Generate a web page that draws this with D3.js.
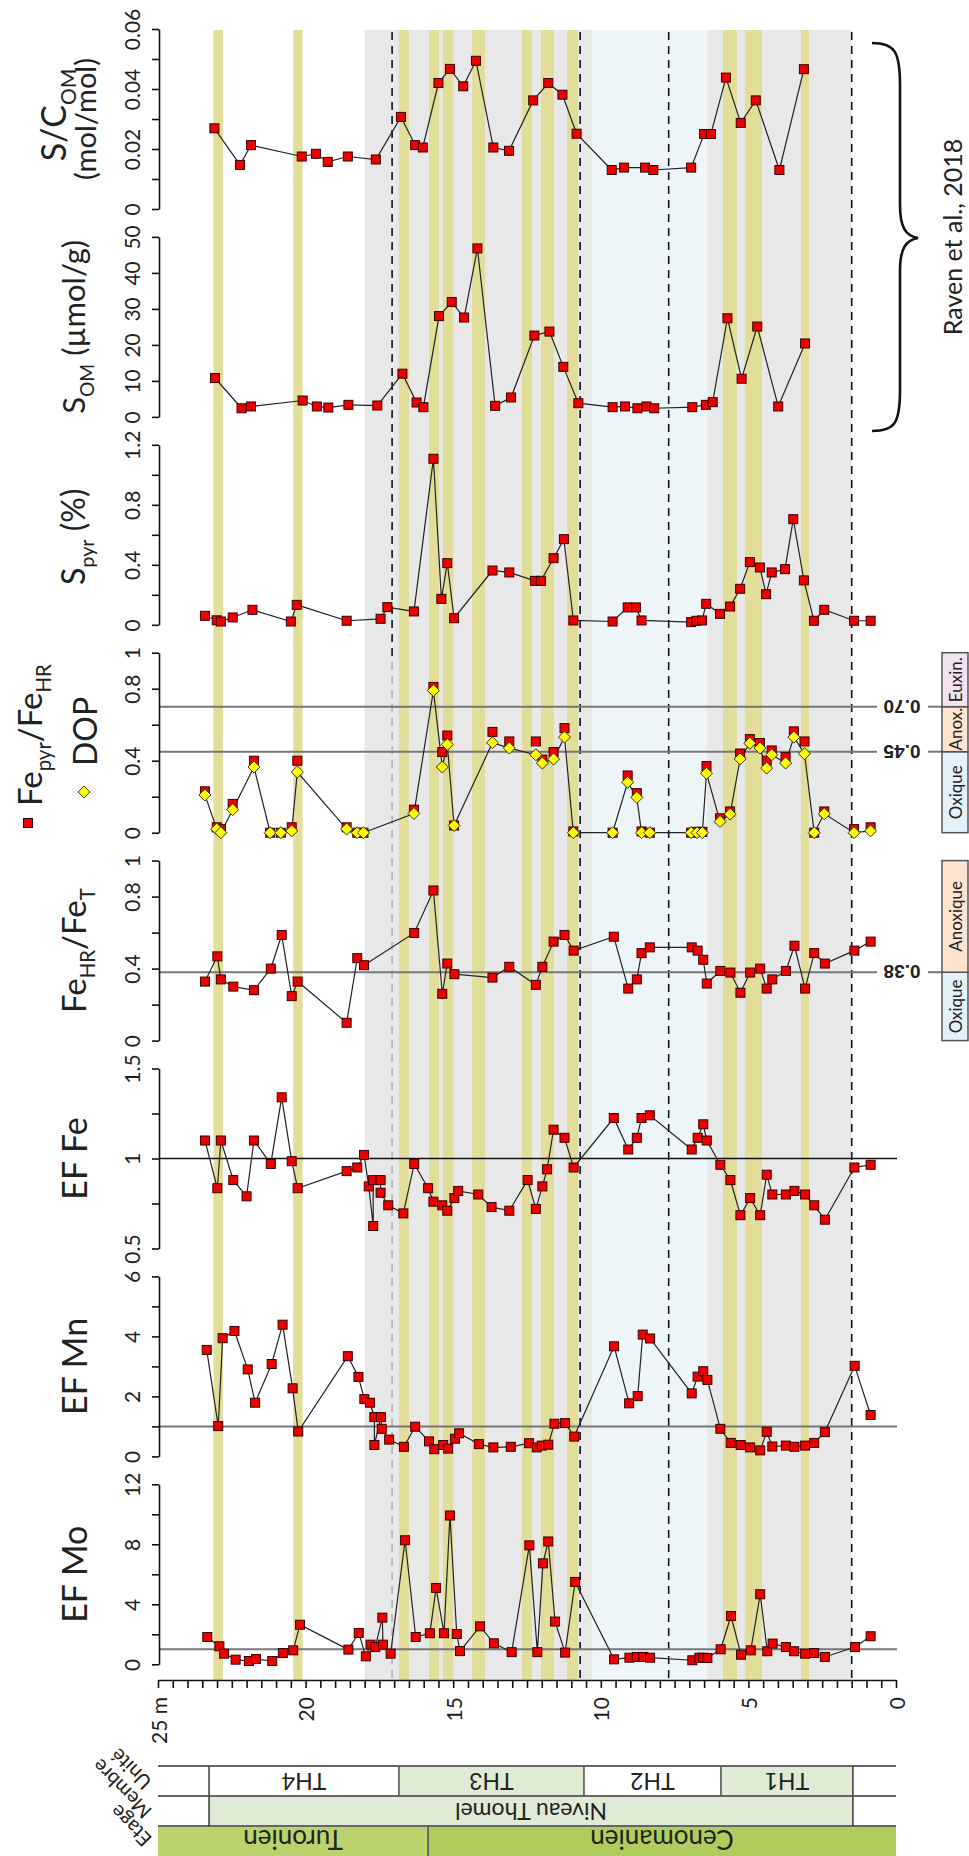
<!DOCTYPE html>
<html><head><meta charset="utf-8">
<script src="https://cdn.jsdelivr.net/npm/d3@7"></script>
<style>
body{margin:0;background:#fff}
svg{display:block}
text{font-family:Lato,'Open Sans',sans-serif;fill:#222}
</style>
</head><body>
<svg id="c" width="969" height="1856"></svg>
<script>
// ---------------- DATA ----------------
// S/C_OM (mol/mol)
const scDepth = [23.09,22.22,21.85,20.13,19.65,19.25,18.57,17.62,16.77,16.29,16.03,15.5,15.11,14.66,14.23,13.64,13.11,12.29,11.78,11.3,10.82,9.63,9.21,8.5,8.22,6.94,6.5,6.27,5.76,5.26,4.75,3.95,3.12];
const scValues = [0.0269,0.0147,0.0213,0.0175,0.0184,0.0157,0.0175,0.0165,0.0307,0.0213,0.0205,0.042,0.0467,0.0409,0.0494,0.0205,0.0194,0.0362,0.042,0.0381,0.0251,0.013,0.0138,0.0138,0.013,0.0138,0.025,0.025,0.0438,0.0287,0.0362,0.013,0.0466];
// S_OM (umol/g)
const somDepth = [23.07,22.17,21.85,20.1,19.62,19.23,18.55,17.57,16.72,16.24,16.01,15.48,15.05,14.63,14.18,13.58,13.04,12.25,11.74,11.27,10.76,9.6,9.18,8.76,8.45,8.19,6.9,6.44,6.21,5.71,5.23,4.7,3.99,3.08];
const somValues = [10.8,2.4,2.9,4.55,2.9,2.6,3.35,3.16,12.0,4.0,2.7,28.0,31.9,27.6,46.8,3.07,5.4,22.6,23.7,13.9,3.8,2.7,2.9,2.4,2.9,2.4,2.7,3.35,4.1,27.4,10.6,25.1,2.9,20.4];
// S_pyr (%)
const spyrDepth = [23.41,23.01,22.87,22.47,21.8,20.5,20.3,18.61,17.46,17.23,16.33,15.67,15.4,15.2,14.97,13.67,13.1,12.23,12.03,11.6,11.25,10.93,9.6,9.09,8.81,8.62,6.94,6.76,6.57,6.43,5.96,5.62,5.28,4.95,4.61,4.4,4.21,3.76,3.48,3.12,2.78,2.43,1.42,0.86];
const spyrValues = [0.06,0.03,0.022,0.049,0.10,0.022,0.133,0.027,0.04,0.118,0.089,1.107,0.173,0.411,0.044,0.362,0.349,0.293,0.293,0.444,0.571,0.029,0.022,0.116,0.116,0.029,0.018,0.027,0.029,0.14,0.073,0.122,0.24,0.418,0.382,0.204,0.349,0.371,0.704,0.296,0.027,0.1,0.027,0.027];
// Fe_pyr/Fe_HR and DOP (same samples)
const fepyrDepth = [23.41,23.01,22.87,22.47,21.75,21.2,20.84,20.47,20.28,18.61,18.25,18.04,16.33,15.67,15.37,15.2,14.97,13.67,13.1,12.2,11.98,11.6,11.23,10.93,9.6,9.09,8.78,8.62,8.34,6.94,6.74,6.56,6.42,5.96,5.62,5.28,4.95,4.61,4.38,4.21,3.74,3.46,3.1,2.77,2.43,1.42,0.86];
const fepyrValues = [0.23,0.03,0.02,0.16,0.40,0.0,0.0,0.03,0.40,0.03,0.0,0.0,0.128,0.81,0.448,0.54,0.04,0.56,0.507,0.507,0.406,0.448,0.581,0.007,0.0,0.318,0.22,0.007,0.0,0.0,0.005,0.005,0.37,0.08,0.118,0.44,0.52,0.498,0.40,0.457,0.42,0.563,0.507,0.0,0.118,0.02,0.03];
const dopValues = [0.21,0.02,0.0,0.128,0.365,0.0,0.0,0.01,0.337,0.02,0.0,0.0,0.107,0.79,0.365,0.49,0.04,0.50,0.47,0.433,0.387,0.409,0.531,0.0,0.0,0.28,0.196,0.0,0.0,0.0,0.0,0.0,0.33,0.062,0.103,0.41,0.497,0.47,0.359,0.433,0.387,0.531,0.439,0.0,0.105,0.0,0.01];
// Fe_HR/Fe_T
const fehrDepth = [23.41,22.99,22.87,22.45,21.75,21.18,20.81,20.47,20.27,18.61,18.25,18.02,16.32,15.67,15.37,15.2,14.96,13.67,13.1,12.2,11.98,11.6,11.23,10.92,9.56,9.07,8.78,8.62,8.34,6.92,6.72,6.53,6.41,5.95,5.61,5.27,4.94,4.6,4.38,4.19,3.73,3.44,3.08,2.77,2.41,1.41,0.86];
const fehrValues = [0.328,0.468,0.34,0.30,0.28,0.40,0.587,0.247,0.328,0.099,0.458,0.419,0.598,0.834,0.26,0.428,0.369,0.35,0.41,0.31,0.41,0.55,0.587,0.5,0.577,0.289,0.34,0.486,0.518,0.518,0.5,0.449,0.317,0.387,0.378,0.266,0.378,0.40,0.289,0.34,0.387,0.527,0.289,0.486,0.428,0.5,0.55];
// EF Fe
const effeDepth = [23.41,22.99,22.87,22.45,22.0,21.75,21.18,20.81,20.47,20.27,18.61,18.25,18.02,17.86,17.71,17.71,17.46,17.46,17.2,16.69,16.32,15.85,15.67,15.37,15.2,14.96,14.83,14.15,13.7,13.1,12.48,12.2,11.98,11.82,11.6,11.23,10.92,9.56,9.07,8.78,8.62,8.34,6.92,6.72,6.53,6.41,5.95,5.61,5.27,4.94,4.6,4.38,4.19,3.73,3.44,3.08,2.77,2.41,1.41,0.86];
const effeValues = [1.10,0.835,1.10,0.88,0.79,1.10,0.97,1.34,0.985,0.835,0.93,0.95,1.02,0.845,0.625,0.88,0.88,0.81,0.74,0.695,0.97,0.835,0.76,0.74,0.71,0.78,0.82,0.80,0.73,0.71,0.88,0.72,0.845,0.94,1.16,1.115,0.95,1.225,1.05,1.115,1.225,1.24,1.05,1.115,1.19,1.10,0.965,0.88,0.685,0.78,0.685,0.91,0.80,0.80,0.82,0.80,0.74,0.66,0.95,0.965];
// EF Mn
const efmnDepth = [23.35,22.96,22.81,22.41,21.96,21.71,21.15,20.78,20.44,20.25,18.57,18.21,18.01,17.82,17.67,17.67,17.45,17.42,17.17,16.67,16.29,15.82,15.64,15.34,15.17,14.94,14.8,14.13,13.64,13.05,12.43,12.17,12.0,11.78,11.57,11.21,10.9,9.55,9.04,8.75,8.58,8.33,6.92,6.72,6.53,6.39,5.95,5.6,5.26,4.94,4.6,4.38,4.19,3.73,3.44,3.08,2.77,2.41,1.4,0.86];
const efmnValues = [3.55,1.01,3.94,4.18,2.9,1.79,3.08,4.39,2.27,0.83,3.34,2.65,1.91,1.79,1.31,0.38,1.31,0.92,0.56,0.32,0.99,0.5,0.24,0.38,0.26,0.59,0.77,0.41,0.3,0.32,0.44,0.3,0.36,0.39,1.09,1.11,0.66,3.67,1.77,2.01,4.06,3.93,2.1,2.66,2.84,2.55,0.92,0.45,0.38,0.3,0.2,0.82,0.33,0.36,0.32,0.36,0.45,0.81,3.02,1.38];
// EF Mo
const efmoDepth = [23.33,22.92,22.76,22.37,21.92,21.68,21.13,20.77,20.42,20.19,18.55,18.2,17.96,17.8,17.64,17.4,17.38,17.12,16.63,16.27,15.79,15.58,15.31,15.11,14.88,14.77,14.09,13.62,13.02,12.42,12.15,11.96,11.78,11.55,11.21,10.87,9.55,9.03,8.78,8.56,8.33,6.9,6.66,6.53,6.39,5.94,5.59,5.25,4.92,4.6,4.36,4.18,3.73,3.45,3.08,2.77,2.41,1.39,0.86];
const efmoValues = [1.82,1.2,0.71,0.31,0.22,0.35,0.22,0.75,0.93,2.64,0.98,2.09,0.53,1.31,1.15,3.11,1.31,0.71,8.27,1.82,2.07,5.09,2.07,9.92,2.02,0.88,2.53,1.40,0.81,7.93,0.81,6.73,8.19,2.85,0.78,5.49,0.33,0.44,0.49,0.49,0.44,0.27,0.44,0.44,0.42,1.0,3.22,0.64,0.93,4.67,0.87,1.38,1.15,0.87,0.71,0.75,0.49,1.15,1.87];

// Tick values / labels
const scTicks = [0,0.01,0.02,0.03,0.04,0.05,0.06];   const scTickLabels = ['0','','0.02','','0.04','','0.06'];
const somTicks = [0,10,20,30,40,50];                  const somTickLabels = ['0','10','20','30','40','50'];
const spyrTicks = [0,0.2,0.4,0.6,0.8,1.0,1.2];        const spyrTickLabels = ['0','','0.4','','0.8','','1.2'];
const ratioTicks = [0,0.2,0.4,0.6,0.8,1.0];           const ratioTickLabels = ['0','','0.4','','0.8','1'];
const effeTicks = [0.5,0.75,1,1.25,1.5];              const effeTickLabels = ['0.5','','1','','1.5'];
const efmnTicks = [0,1,2,3,4,5,6];                    const efmnTickLabels = ['0','','2','','4','','6'];
const efmoTicks = [0,2,4,6,8,10,12];                  const efmoTickLabels = ['0','','4','','8','','12'];
const depthTicks = d3.range(0, 25.01, 0.5);
const depthLabelValues = [0,5,10,15,20,25];
const depthLabels = ['0','5','10','15','20','25 m'];

// Background zones (depth, m)
const grayZone = [18.0, 1.5];
const blueZone = [10.3, 6.4];
const yellowBands = [[23.12,22.8],[20.42,20.1],[16.84,16.5],[15.82,15.48],[15.35,15.0],[14.36,13.92],[12.67,12.33],[12.03,11.59],[11.14,10.77],[5.86,5.39],[5.12,4.54],[3.22,2.95]];
const dashedDepths = [10.7, 7.7, 1.5];
const mixedDashDepth = 17.07;

// Stratigraphy
const unitNames = ['TH4','TH3','TH2','TH1'];
const unitTop = [23.27,16.84,10.57,5.93];
const unitBase = [16.84,10.57,5.93,1.46];
const memberNames = ['Niveau Thomel'];
const memberTop = [23.27]; const memberBase = [1.46];
const stageNames = ['Turonien','Cenomanien'];
const stageTop = [25,15.85]; const stageBase = [15.85,0];
const rowLabels = ['Unit\u00e9','Membre','Etage'];

// ---------------- LAYOUT ----------------
const svg = d3.select('#c');
const X0 = 158, X1 = 896;
const x = d3.scaleLinear().domain([25,0]).range([X0,X1]);
const plotTop = 30, axisY = 1680;
const pTop = i => 29 + i*207.9;
const pH = 180;

const gBg = svg.append('g');
gBg.append('rect').attr('x',x(grayZone[0])).attr('width',x(grayZone[1])-x(grayZone[0]))
  .attr('y',plotTop).attr('height',axisY-plotTop).attr('fill','#e8e8e8');
gBg.append('rect').attr('x',x(blueZone[0])).attr('width',x(blueZone[1])-x(blueZone[0]))
  .attr('y',plotTop).attr('height',axisY-plotTop).attr('fill','#edf5f8');
gBg.selectAll('rect.yb').data(yellowBands).join('rect').attr('class','yb')
  .attr('x',d=>x(d[0])).attr('width',d=>x(d[1])-x(d[0]))
  .attr('y',plotTop).attr('height',axisY-plotTop).attr('fill','#e2dd98');
gBg.selectAll('line.dl').data(dashedDepths).join('line').attr('class','dl')
  .attr('x1',d=>x(d)).attr('x2',d=>x(d)).attr('y1',plotTop+2).attr('y2',axisY)
  .attr('stroke','#111').attr('stroke-width',1.6).attr('stroke-dasharray','8,6');
gBg.append('line').attr('x1',x(mixedDashDepth)).attr('x2',x(mixedDashDepth)).attr('y1',plotTop+2).attr('y2',660)
  .attr('stroke','#111').attr('stroke-width',1.6).attr('stroke-dasharray','8,6');
gBg.append('line').attr('x1',x(mixedDashDepth)).attr('x2',x(mixedDashDepth)).attr('y1',662).attr('y2',axisY)
  .attr('stroke','#aaa').attr('stroke-width',1.4).attr('stroke-dasharray','8,6');

// panels
const panels = [
  {depth:scDepth, values:scValues, domain:[0,0.06], ticks:scTicks, labels:scTickLabels},
  {depth:somDepth, values:somValues, domain:[0,50], ticks:somTicks, labels:somTickLabels},
  {depth:spyrDepth, values:spyrValues, domain:[0,1.2], ticks:spyrTicks, labels:spyrTickLabels},
  {depth:fepyrDepth, values:fepyrValues, dop:dopValues, domain:[0,1], ticks:ratioTicks, labels:ratioTickLabels, hlines:[0.70,0.45], hlab:['0.70','0.45']},
  {depth:fehrDepth, values:fehrValues, domain:[0,1], ticks:ratioTicks, labels:ratioTickLabels, hlines:[0.38], hlab:['0.38']},
  {depth:effeDepth, values:effeValues, domain:[0.5,1.5], ticks:effeTicks, labels:effeTickLabels, ref:1, refColor:'#111', refW:1.3},
  {depth:efmnDepth, values:efmnValues, domain:[0,6], ticks:efmnTicks, labels:efmnTickLabels, ref:1, refColor:'#777', refW:2},
  {depth:efmoDepth, values:efmoValues, domain:[0,12], ticks:efmoTicks, labels:efmoTickLabels, ref:1, refColor:'#777', refW:2}
];

const sq = 9;
const diamond = 'M0,-6L6,0L0,6L-6,0Z';

panels.forEach((p,i)=>{
  const top = pTop(i);
  const y = d3.scaleLinear().domain(p.domain).range([top+pH, top]);
  p.y = y;
  const g = svg.append('g');
  if (p.hlines) {
    p.hlines.forEach((v,k)=>{
      g.append('line').attr('x1',X0+1).attr('x2',877).attr('y1',y(v)).attr('y2',y(v))
        .attr('stroke','#777').attr('stroke-width',2);
      g.append('line').attr('x1',928).attr('x2',942).attr('y1',y(v)).attr('y2',y(v))
        .attr('stroke','#777').attr('stroke-width',2);
      g.append('text').attr('transform',`translate(902,${y(v)}) rotate(180)`)
        .attr('text-anchor','middle').attr('dy','0.36em')
        .style('font-family','"Liberation Sans",Arial,sans-serif').style('font-weight','bold')
        .style('font-size','19px').text(p.hlab[k]);
    });
  }
  if (p.ref !== undefined) {
    g.append('line').attr('x1',X0+1).attr('x2',X1+1).attr('y1',y(p.ref)).attr('y2',y(p.ref))
      .attr('stroke',p.refColor).attr('stroke-width',p.refW);
  }
  // axis
  const ax = g.append('g').attr('transform',`translate(${X0+1},0)`)
    .call(d3.axisLeft(y).tickValues(p.ticks).tickFormat((d,k)=>p.labels[k]).tickSize(7).tickSizeOuter(0));
  ax.select('.domain').attr('stroke','#111').attr('stroke-width',1.6);
  ax.selectAll('.tick line').attr('stroke','#111').attr('stroke-width',1.6);
  ax.selectAll('.tick text').filter(function(){ return this.textContent === ''; }).remove();
  ax.selectAll('.tick text').attr('transform','rotate(-90)').attr('x',0).attr('y',-19).attr('dy',null)
    .attr('text-anchor','middle').style('font-size','21px').style('font-family','Lato,sans-serif').attr('fill','#222');

  const pts = p.depth.map((d,k)=>[d, p.values[k]]);
  const line = d3.line().x(d=>x(d[0])).y(d=>y(d[1]));
  const drawSquares = () => g.selectAll('rect.m').data(pts).join('rect').attr('class','m')
      .attr('x',d=>x(d[0])-sq/2).attr('y',d=>y(d[1])-sq/2).attr('width',sq).attr('height',sq)
      .attr('fill','#ee0000').attr('stroke','#3a0000').attr('stroke-width',1);
  if (p.dop) {
    const dpts = p.depth.map((d,k)=>[d, p.dop[k]]);
    g.append('path').attr('d',line(dpts)).attr('fill','none').attr('stroke','#222').attr('stroke-width',1.2);
    drawSquares();
    g.selectAll('path.dm').data(dpts).join('path').attr('class','dm')
      .attr('transform',d=>`translate(${x(d[0])},${y(d[1])})`).attr('d',diamond)
      .attr('fill','#ffff00').attr('stroke','#333').attr('stroke-width',1);
  } else {
    g.append('path').attr('d',line(pts)).attr('fill','none').attr('stroke','#222').attr('stroke-width',1.2);
    drawSquares();
  }
});

// regime boxes
function regimeBox(p, bounds, names, fills){
  const g = svg.append('g');
  names.forEach((n,k)=>{
    const y0 = p.y(bounds[k+1]), y1 = p.y(bounds[k]);
    g.append('rect').attr('x',942).attr('width',26).attr('y',y0).attr('height',y1-y0)
      .attr('fill',fills[k]).attr('stroke','#555').attr('stroke-width',1.5);
    g.append('text').attr('transform',`translate(962,${(y0+y1)/2}) rotate(-90)`)
      .attr('text-anchor','middle').style('font-size','17px').text(n);
  });
}
regimeBox(panels[3],[0,0.45,0.70,1],['Oxique','Anox.','Euxin.'],['#e2f1fa','#fde4d0','#f3e3ef']);
regimeBox(panels[4],[0,0.38,1],['Oxique','Anoxique'],['#e2f1fa','#fde4d0']);

// y-axis titles (rotated)
function vtitle(xb, yc, parts, size, anchor){
  const t = svg.append('text').attr('transform',`translate(${xb},${yc}) rotate(-90)`)
    .attr('text-anchor',anchor||'middle').style('font-size',size+'px');
  let shifted = false;
  parts.forEach(pt=>{
    const ts = t.append('tspan').text(pt.t);
    if (pt.sub) { ts.attr('dy',size*0.28).style('font-size',(size*0.62)+'px'); shifted = true; }
    else if (shifted) { ts.attr('dy',-size*0.28); shifted = false; }
  });
  return t;
}
const mid = i => pTop(i)+pH/2;
vtitle(66, mid(0)-4, [{t:'S/C'},{t:'OM',sub:true}], 34);
vtitle(96, mid(0), [{t:'(mol/mol)'}], 29);
vtitle(85, mid(1), [{t:'S'},{t:'OM',sub:true},{t:' (\u00b5mol/g)'}], 31);
vtitle(85, mid(2)+2, [{t:'S'},{t:'pyr',sub:true},{t:' (%)'}], 32);
vtitle(42, 806, [{t:'Fe'},{t:'pyr',sub:true},{t:'/Fe'},{t:'HR',sub:true}], 33, 'start');
vtitle(97, 766, [{t:'DOP'}], 32, 'start');
svg.append('rect').attr('x',28-sq/2).attr('y',823-sq/2).attr('width',sq).attr('height',sq)
  .attr('fill','#ee0000').attr('stroke','#3a0000');
svg.append('path').attr('transform','translate(84,792)').attr('d',diamond).attr('fill','#ffff00').attr('stroke','#333');
vtitle(86, mid(4), [{t:'Fe'},{t:'HR',sub:true},{t:'/Fe'},{t:'T',sub:true}], 33);
vtitle(87, mid(5), [{t:'EF Fe'}], 34);
vtitle(87, mid(6), [{t:'EF Mn'}], 34);
vtitle(87, mid(7), [{t:'EF Mo'}], 34);

// depth axis
const dax = svg.append('g').attr('transform',`translate(0,${axisY})`)
  .call(d3.axisBottom(x).tickValues(depthTicks).tickSize(8).tickSizeOuter(0)
    .tickFormat(d=>{ const k = depthLabelValues.findIndex(v=>Math.abs(v-d)<1e-9); return k>=0 ? depthLabels[k] : ''; }));
dax.select('.domain').attr('stroke','#111').attr('stroke-width',1.6);
dax.selectAll('.tick line').attr('stroke','#111').attr('stroke-width',1.6);
dax.selectAll('.tick text').filter(function(){ return this.textContent === ''; }).remove();
dax.selectAll('.tick text').attr('transform','rotate(-90)').attr('x',-17).attr('y',8).attr('dy',null)
  .attr('text-anchor','end').style('font-size','21px').style('font-family','Lato,sans-serif').attr('fill','#222');

// brace + reference
svg.append('path')
  .attr('d','M872,43 C895,43 900,52 900,85 L900,205 C900,228 906,236 918,238 C906,240 900,248 900,271 L900,390 C900,423 895,431 872,431')
  .attr('fill','none').attr('stroke','#111').attr('stroke-width',2.6);
svg.append('text').attr('transform','translate(962,237) rotate(-90)').attr('text-anchor','middle')
  .style('font-size','25px').text('Raven et al., 2018');

// stratigraphic columns
const rowU = [1766,1796], rowM = [1796,1826], rowS = [1826,1856];
const gs = svg.append('g');
stageNames.forEach((n,k)=>{
  gs.append('rect').attr('x',x(stageTop[k])).attr('width',x(stageBase[k])-x(stageTop[k]))
    .attr('y',rowS[0]).attr('height',rowS[1]-rowS[0]).attr('fill',k===0?'#bbd36d':'#afcd5b');
});
memberNames.forEach((n,k)=>{
  gs.append('rect').attr('x',x(memberTop[k])).attr('width',x(memberBase[k])-x(memberTop[k]))
    .attr('y',rowM[0]).attr('height',rowM[1]-rowM[0]).attr('fill','#e0ebd5');
});
unitNames.forEach((n,k)=>{
  gs.append('rect').attr('x',x(unitTop[k])).attr('width',x(unitBase[k])-x(unitTop[k]))
    .attr('y',rowU[0]).attr('height',rowU[1]-rowU[0]).attr('fill',k%2===0?'#ffffff':'#e0ebd5');
});
[rowU[0],rowM[0],rowS[0]].forEach(yy=>{
  gs.append('line').attr('x1',X0).attr('x2',X1).attr('y1',yy).attr('y2',yy).attr('stroke','#666').attr('stroke-width',1.8);
});
unitBase.slice(0,3).forEach(d=>{
  gs.append('line').attr('x1',x(d)).attr('x2',x(d)).attr('y1',rowU[0]).attr('y2',rowU[1]).attr('stroke','#555').attr('stroke-width',1.6);
});
[memberTop[0],memberBase[0]].forEach(d=>{
  gs.append('line').attr('x1',x(d)).attr('x2',x(d)).attr('y1',rowU[0]).attr('y2',rowM[1]).attr('stroke','#444').attr('stroke-width',1.6);
});
gs.append('line').attr('x1',x(stageBase[0])).attr('x2',x(stageBase[0])).attr('y1',rowS[0]).attr('y2',rowS[1]).attr('stroke','#555').attr('stroke-width',1.6);
function flipText(cx, cy, t, size){
  gs.append('text').attr('transform',`translate(${cx},${cy}) rotate(180)`).attr('text-anchor','middle')
    .attr('dy','0.36em').style('font-size',size+'px').text(t);
}
unitNames.forEach((n,k)=> flipText((x(unitTop[k])+x(unitBase[k]))/2, 1781, n, 23));
memberNames.forEach((n,k)=> flipText((x(memberTop[k])+x(memberBase[k]))/2, 1811, n, 23));
stageNames.forEach((n,k)=> flipText((x(stageTop[k])+x(stageBase[k]))/2, 1839, n, 26));
// row labels
const rowLabelY = [1786,1815,1843];
rowLabels.forEach((n,k)=>{
  svg.append('text').attr('transform',`translate(148,${rowLabelY[k]}) rotate(-135)`)
    .attr('text-anchor','start').attr('dy','0.36em').style('font-size','20px').text(n);
});
</script>
</body></html>
